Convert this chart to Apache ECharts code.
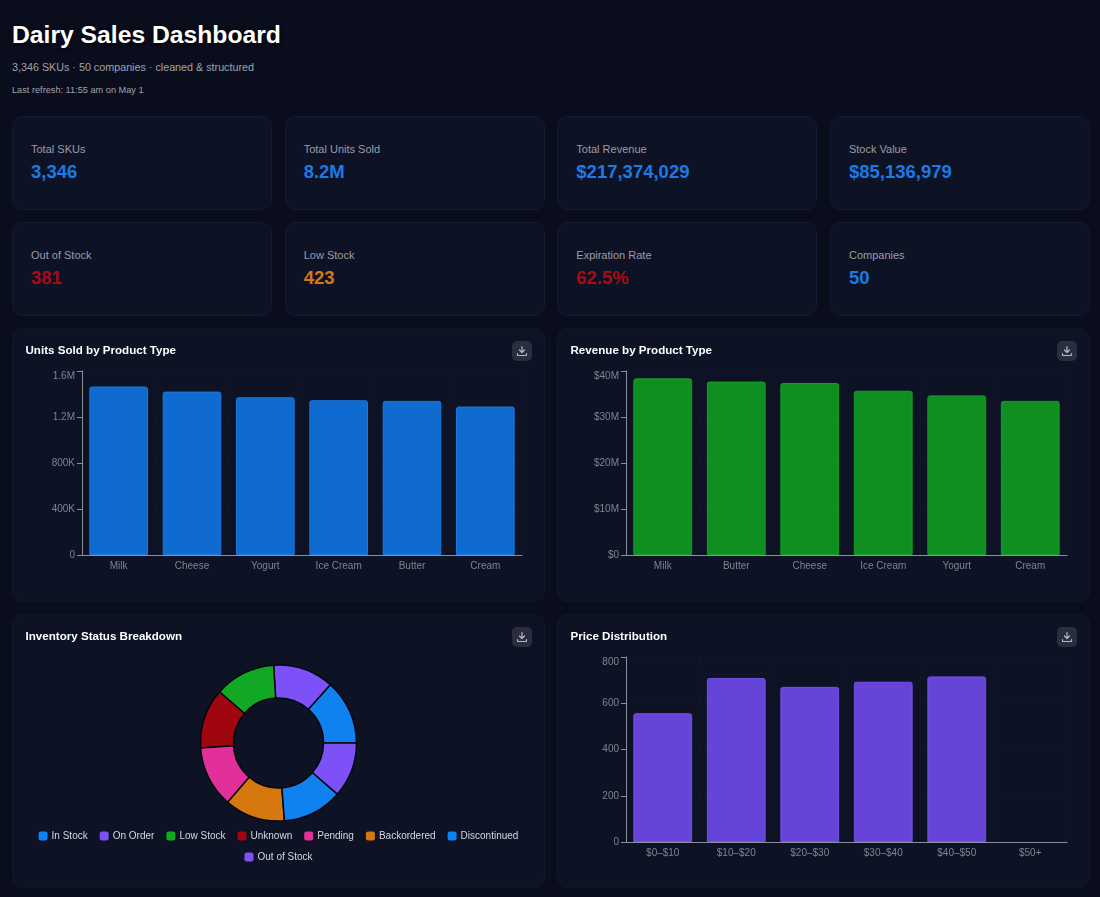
<!DOCTYPE html>
<html>
<head>
<meta charset="utf-8">
<title>Dairy Sales Dashboard</title>
<script src="https://cdn.jsdelivr.net/npm/echarts@6/dist/echarts.min.js"></script>
<style>
  html, body { margin: 0; padding: 0; background: #0a0d1b; }
  body { width: 1100px; height: 897px; overflow: hidden; position: relative; font-family: "Liberation Sans", Arial, sans-serif; }
  h1 { position: absolute; left: 12px; top: 20px; margin: 0; font-size: 24.7px; line-height: 30px; font-weight: 700; color: #fff; text-shadow: 0 1px 4px rgba(0,0,0,.8); }
  .sub { position: absolute; left: 12px; top: 60px; font-size: 10.75px; line-height: 14px; color: #a0a3ad; }
  .refresh { position: absolute; left: 12px; top: 84px; font-size: 9.2px; line-height: 12px; color: #a0a3ad; }
  .kpi-grid { position: absolute; left: 12px; top: 116px; width: 1078px; display: grid; grid-template-columns: repeat(4, 260px); column-gap: 12.67px; grid-template-rows: 94px 94px; row-gap: 12px; }
  .kpi { box-sizing: border-box; background: #0e1225; border: 1px solid #141830; border-radius: 10px; padding: 26px 18px 0; }
  .kpi .label { font-size: 11px; line-height: 13px; color: #9a9da8; }
  .kpi .value { font-size: 18.5px; line-height: 22px; margin-top: 5px; font-weight: 700; }
  .panel { position: absolute; width: 533px; height: 274px; box-sizing: border-box; background: #0e1225; border: 1px solid #12162a; border-radius: 10px; }
  .panel h2 { position: absolute; left: 12.5px; top: 13px; margin: 0; font-size: 11.6px; line-height: 15px; font-weight: 700; color: #fff; z-index: 2; }
  .panel .chart { position: absolute; left: -1px; top: -1px; width: 533px; height: 274px; }
  .dl { position: absolute; right: 12px; top: 12px; width: 20px; height: 20px; border-radius: 5px; background: #2a2d3b; z-index: 2; }
  .dl svg { position: absolute; left: 4px; top: 4px; }
</style>
</head>
<body>
<h1>Dairy Sales Dashboard</h1>
<div class="sub">3,346 SKUs · 50 companies · cleaned &amp; structured</div>
<div class="refresh">Last refresh: 11:55 am on May 1</div>
<div class="kpi-grid" id="kpis"></div>

<div class="panel" style="left:12px;top:328px"><h2>Units Sold by Product Type</h2><div class="dl"></div><div class="chart" id="units-chart"></div></div>
<div class="panel" style="left:557px;top:328px"><h2>Revenue by Product Type</h2><div class="dl"></div><div class="chart" id="revenue-chart"></div></div>
<div class="panel" style="left:12px;top:614px"><h2>Inventory Status Breakdown</h2><div class="dl"></div><div class="chart" id="status-chart"></div></div>
<div class="panel" style="left:557px;top:614px"><h2>Price Distribution</h2><div class="dl"></div><div class="chart" id="price-chart"></div></div>

<script>
const BLUE = '#1a7be6';
const RED = '#a50d16';
const ORANGE = '#d5781a';

const kpiLabels = ['Total SKUs', 'Total Units Sold', 'Total Revenue', 'Stock Value', 'Out of Stock', 'Low Stock', 'Expiration Rate', 'Companies'];
const kpiValues = ['3,346', '8.2M', '$217,374,029', '$85,136,979', '381', '423', '62.5%', '50'];
const kpiColors = [BLUE, BLUE, BLUE, BLUE, RED, ORANGE, RED, BLUE];

const unitTypes = ['Milk', 'Cheese', 'Yogurt', 'Ice Cream', 'Butter', 'Cream'];
const unitValues = [1465000, 1421000, 1372000, 1346000, 1340000, 1291000];

const revenueTypes = ['Milk', 'Butter', 'Cheese', 'Ice Cream', 'Yogurt', 'Cream'];
const revenueValues = [38400000, 37700000, 37400000, 35700000, 34700000, 33500000];

const statusNames = ['In Stock', 'On Order', 'Low Stock', 'Unknown', 'Pending', 'Backordered', 'Discontinued', 'Out of Stock'];
const statusValues = [450, 420, 423, 414, 425, 418, 415, 381];
const statusColors = ['#0f82f0', '#7c52f8', '#12a824', '#a0060f', '#e2309a', '#d5780f', '#0f82f0', '#7c52f8'];

const priceBands = ['$0–$10', '$10–$20', '$20–$30', '$30–$40', '$40–$50', '$50+'];
const priceValues = [557, 709, 671, 693, 716, 0];

function renderKpis() {
  const box = document.getElementById('kpis');
  kpiLabels.forEach((label, i) => {
    box.insertAdjacentHTML('beforeend',
      `<div class="kpi"><div class="label">${label}</div><div class="value" style="color:${kpiColors[i]}">${kpiValues[i]}</div></div>`);
  });
}

function renderDownloadIcons() {
  document.querySelectorAll('.dl').forEach(el => {
    el.innerHTML = '<svg width="12" height="12" viewBox="0 0 24 24" fill="none" stroke="#b8bac3" stroke-width="2.4" stroke-linecap="round" stroke-linejoin="round">'
      + '<path d="M12 3v12M7 10l5 5 5-5M3 17v3a1 1 0 0 0 1 1h16a1 1 0 0 0 1-1v-3"/></svg>';
  });
}

function barOption(cats, values, color, border, maxVal, step, fmt, grid) {
  return {
    animation: false,
    grid: grid,
    xAxis: {
      type: 'category',
      data: cats,
      z: 3,
      axisLine: { lineStyle: { color: '#8b8e9b', width: 1 } },
      axisTick: { alignWithLabel: true, length: 4, lineStyle: { color: '#8b8e9b' } },
      axisLabel: { color: '#7f838f', fontSize: 10, margin: 6, fontFamily: 'Liberation Sans', interval: 0 },
      splitLine: { show: true, lineStyle: { color: 'rgba(255,255,255,0.02)', type: 'dashed' } }
    },
    yAxis: {
      type: 'value',
      min: 0,
      max: maxVal,
      interval: step,
      axisLine: { show: true, lineStyle: { color: '#8b8e9b', width: 1 } },
      axisTick: { show: true, length: 5, lineStyle: { color: '#8b8e9b' } },
      axisLabel: { color: '#7f838f', fontSize: 10, margin: 7, fontFamily: 'Liberation Sans', formatter: fmt, verticalAlignMaxLabel: 'top' },
      splitLine: { show: true, lineStyle: { color: 'rgba(255,255,255,0.02)', type: 'dashed' } }
    },
    series: [{
      type: 'bar',
      // an empty band gets no border sliver along the axis
      data: values.map(v => (v === 0 ? { value: 0, itemStyle: { borderWidth: 0 } } : v)),
      barCategoryGap: '20%',
      itemStyle: { color: color, borderColor: border, borderWidth: 1, borderRadius: [2, 2, 0, 0] }
    }]
  };
}

function fmtUnits(v) {
  if (v === 0) return '0';
  return v >= 1000000 ? (v / 1000000).toFixed(1) + 'M' : (v / 1000) + 'K';
}

function statusLegend(names, top) {
  return {
    data: names,
    left: 'center',
    top: top,
    width: 525,
    itemWidth: 9,
    itemHeight: 9,
    itemGap: 12,
    icon: 'roundRect',
    itemStyle: { borderWidth: 0 },
    textStyle: { color: '#d5d7de', fontSize: 10, fontFamily: 'Liberation Sans', padding: [0, 0, 0, -1] }
  };
}

function initCharts() {
  echarts.init(document.getElementById('units-chart')).setOption(
    barOption(unitTypes, unitValues, '#106bd0', '#1a78e0', 1600000, 400000, fmtUnits,
      { left: 70, right: 23, top: 43, bottom: 47 }));

  echarts.init(document.getElementById('revenue-chart')).setOption(
    barOption(revenueTypes, revenueValues, '#0f8f20', '#13a028', 40000000, 10000000, v => '$' + (v === 0 ? 0 : (v / 1000000) + 'M'),
      { left: 69, right: 23, top: 43, bottom: 47 }));

  echarts.init(document.getElementById('price-chart')).setOption(
    barOption(priceBands, priceValues, '#6644d8', '#7450e8', 800, 200, v => String(v),
      { left: 69, right: 23, top: 43, bottom: 46 }));

  echarts.init(document.getElementById('status-chart')).setOption({
    animation: false,
    color: statusColors,
    legend: [statusLegend(statusNames.slice(0, 7), 212), statusLegend(statusNames.slice(7), 233)],
    series: [{
      type: 'pie',
      center: [266.5, 129],
      radius: [45, 78],
      startAngle: 0,
      clockwise: false,
      label: { show: false },
      labelLine: { show: false },
      itemStyle: { borderColor: '#05060d', borderWidth: 1.5 },
      data: statusNames.map((name, i) => ({ name: name, value: statusValues[i] }))
    }]
  });
}

renderKpis();
renderDownloadIcons();
initCharts();
</script>
</body>
</html>
